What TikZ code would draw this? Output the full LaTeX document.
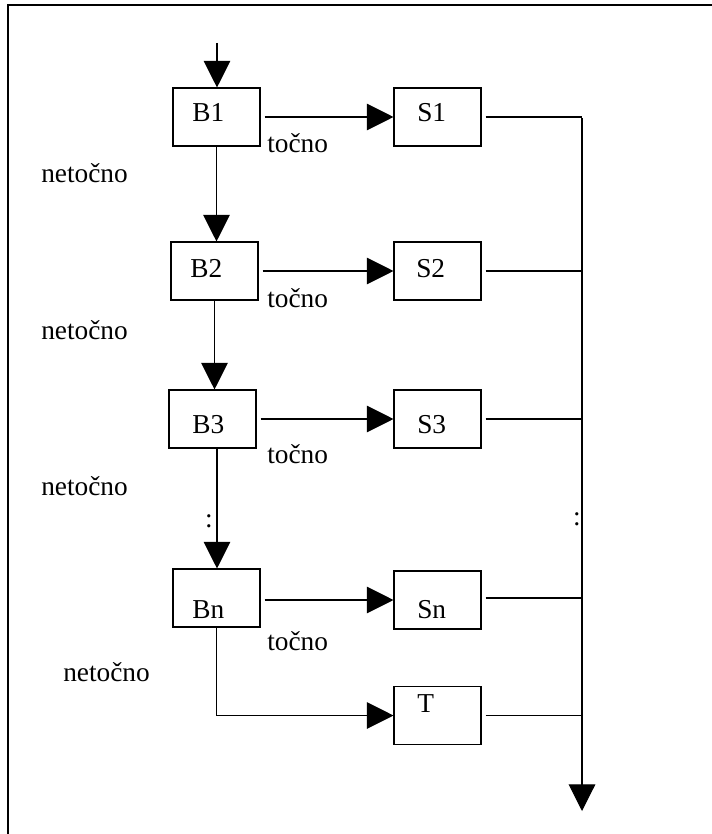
\documentclass[tikz,border=0pt]{standalone}
\usepackage{fontspec}
\setmainfont{Liberation Serif}
\usetikzlibrary{arrows.meta}
\begin{document}
\begin{tikzpicture}[x=0.75pt,y=-0.75pt,
  box/.style={draw,line width=0.8pt,minimum width=65.25pt,minimum height=43.5pt,inner sep=0pt},
  txt/.style={inner sep=0pt,anchor=base west,font=\fontsize{20.5}{24}\selectfont},
  dotsym/.style={inner sep=0pt,anchor=base,font=\fontsize{20.5}{24}\selectfont},
  conn/.style={line width=0.8pt},
  arr/.style={line width=0.8pt,-{Triangle[length=20pt,width=20pt]}}]
\useasboundingbox (0,0) rectangle (712,834);
% frame
\draw[line width=1.5pt] (8,840) -- (8,5.5) -- (720,5.5);
% boxes
\node[box] (B1) at (216.5,117) {};
\node[box] (S1) at (437.5,117) {};
\node[box] (B2) at (214.5,271) {};
\node[box] (S2) at (437.5,271) {};
\node[box] (B3) at (212.5,419) {};
\node[box] (S3) at (437.5,419) {};
\node[box] (Bn) at (216.5,598) {};
\node[box] (Sn) at (437.5,600) {};
\node[box] (T)  at (437.5,715.5) {};
% box texts
\node[txt] (tB1) at (192,122) {B1};
\node[txt] (tS1) at (417,122) {S1};
\node[txt] (tB2) at (190,277) {B2};
\node[txt] (tS2) at (416,277) {S2};
\node[txt] (tB3) at (192,433) {B3};
\node[txt] (tS3) at (417,433) {S3};
\node[txt] (tBn) at (192,618) {Bn};
\node[txt] (tSn) at (417,618) {Sn};
\node[txt] (tT)  at (417,712) {T};
% labels
\node[txt] (l1) at (267,153) {točno};
\node[txt] (l2) at (267,307) {točno};
\node[txt] (l3) at (267,463) {točno};
\node[txt] (l4) at (267,650) {točno};
\node[txt] (n1) at (41,183) {netočno};
\node[txt] (n2) at (41,339) {netočno};
\node[txt] (n3) at (41,495) {netočno};
\node[txt] (n4) at (63,681) {netočno};
\node[dotsym] (d1) at (209,527) {:};
\node[dotsym] (d2) at (577,525) {:};
% coordinates
\coordinate (start) at (217,43);
\coordinate (bustop) at (582,118);
\coordinate (busend) at (582,811);
\coordinate (b3out) at (217,448);
% connectors
\draw[arr] (start) -- (start |- B1.north);
\draw[arr,shorten <=3pt] (B1.east) -- (S1.west);
\draw[arr,shorten <=3pt] (B2.east) -- (S2.west);
\draw[arr,shorten <=3pt] (B3.east) -- (S3.west);
\draw[arr,shorten <=3pt] (Bn.east |- Sn.west) -- (Sn.west);
\draw[arr] (B1.south) -- (B1.south |- B2.north);
\draw[arr] (B2.south) -- (B2.south |- B3.north);
\draw[arr] (b3out) -- (b3out |- Bn.north);
\draw[arr] (Bn.south) |- (T.west);
\draw[conn,shorten <=3pt] (S1.east) -- (S1.east -| bustop);
\draw[conn,shorten <=3pt] (S2.east) -- (S2.east -| bustop);
\draw[conn,shorten <=3pt] (S3.east) -- (S3.east -| bustop);
\draw[conn,shorten <=3pt] (Sn.east |- Bn.east) -- (Bn.east -| bustop);
\draw[conn,shorten <=3pt] (T.east |- Bn.south |- T.west) -- (T.west -| bustop);
\draw[arr] (bustop) -- (busend);
\end{tikzpicture}
\end{document}
